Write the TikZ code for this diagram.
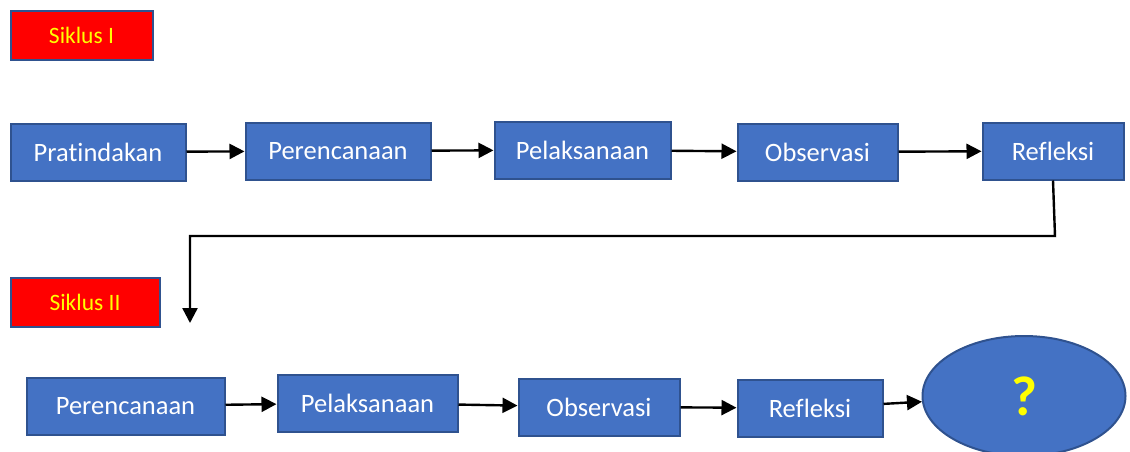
\documentclass[tikz,border=0pt]{standalone}
\usepackage{fontspec}
\setmainfont{Carlito}[Ligatures=NoCommon]
\usetikzlibrary{arrows.meta,shapes.geometric}
\definecolor{boxblue}{HTML}{4472C4}
\definecolor{edgeblue}{HTML}{2F528F}
\definecolor{txtyellow}{HTML}{FFFF00}
\begin{document}
\begin{tikzpicture}[x=1pt,y=-1pt,
    box/.style={draw=edgeblue,line width=2pt,fill=boxblue,text=white,
      font=\fontsize{26.5}{30}\selectfont,minimum width=#1,minimum height=57pt,
      inner sep=0pt},
    tag/.style={draw=edgeblue,line width=2pt,fill=red,text=txtyellow,
      font=\fontsize{23.5}{27}\selectfont,minimum width=#1,minimum height=49pt,
      inner sep=0pt},
    arr/.style={line width=2.4pt,-{Triangle[length=15pt,width=15pt]}}]
  \useasboundingbox (0,0) rectangle (1130,451);
  \node[tag=142] (tag1) at (81.5,35) {Siklus I};
  \node[tag=149] (tag2) at (85,302) {Siklus II};
  \draw
    (98,152) node[box=175] (pra) {Pratindakan}
    (338,151) node[box=185] (per1) {Perencanaan}
    (582.5,150) node[box=176] (pel1) {Pelaksanaan}
    (817.5,152) node[box=160] (obs1) {Observasi}
    (1053,151) node[box=141] (ref1) {Refleksi};
  \draw
    (125.5,406) node[box=198] (per2) {Perencanaan}
    (367.5,403) node[box=180] (pel2) {Pelaksanaan}
    (599,407) node[box=161] (obs2) {Observasi}
    (810,408) node[box=145] (ref2) {Refleksi};
  \node[ellipse,draw=edgeblue,line width=2pt,fill=boxblue,text=txtyellow,
    font=\fontsize{56}{60}\selectfont\bfseries,minimum width=203pt,
    minimum height=120pt,inner sep=0pt] (ask) at (1024,396) {?};
  \coordinate (bend) at (1055,236);
  \coordinate (down) at (190,323);
  \begin{scope}[arr]
    \draw (pra) -- (per1);
    \draw (per1) -- (pel1);
    \draw (pel1) -- (obs1);
    \draw (obs1) -- (ref1);
    \draw (ref1.south) -- (bend) -| (down);
    \draw (per2) -- (pel2);
    \draw (pel2) -- (obs2);
    \draw (obs2) -- (ref2);
    \draw (ref2) -- (ask);
  \end{scope}
\end{tikzpicture}
\end{document}
